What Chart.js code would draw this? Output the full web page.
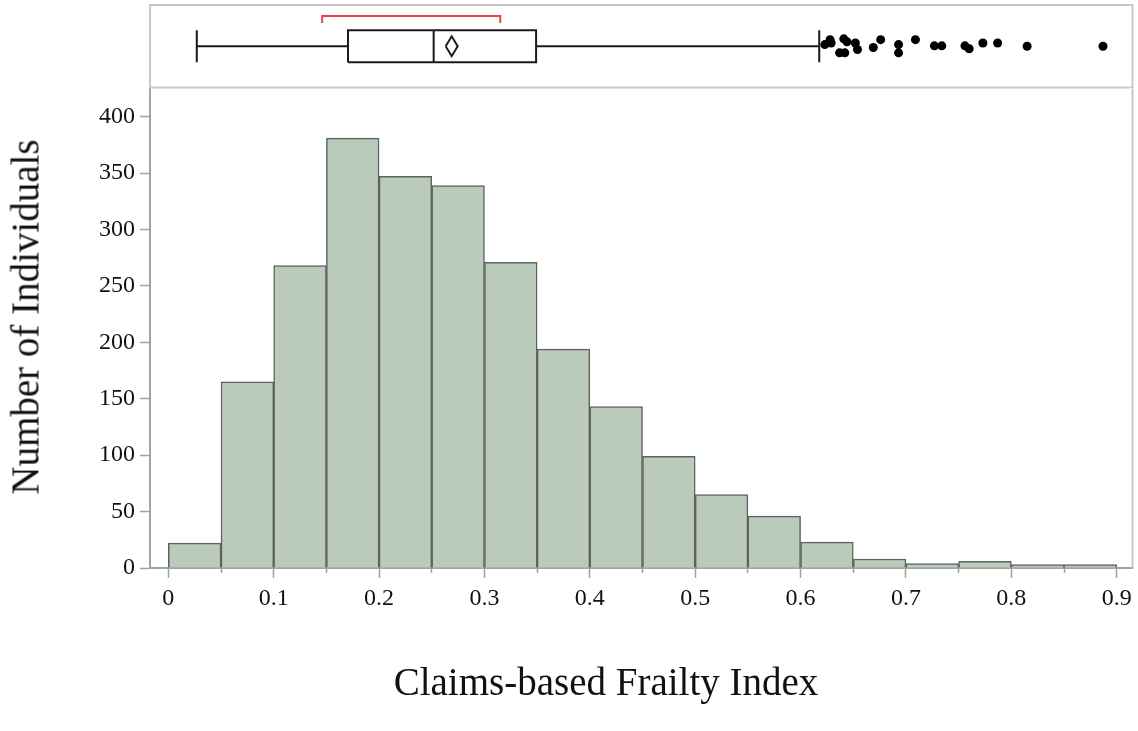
<!DOCTYPE html>
<html lang="en">
<head>
<meta charset="UTF-8">
<title>Claims-based Frailty Index</title>
<script src="https://cdn.jsdelivr.net/npm/chart.js@4.4.9/dist/chart.umd.min.js"></script>
<style>
    body { margin: 0; background: #fff; overflow: hidden; font-family: 'Liberation Serif', 'Times New Roman', serif; }
    #pagina { position: relative; width: 1138px; height: 731px; }
    #caixaHist { position: absolute; left: 0; top: 0; width: 1138px; height: 731px; }
    #caixaBox { position: absolute; left: 140px; top: 0; width: 1000px; height: 92px; }
    .tituloEixo { position: absolute; font-size: 39px; line-height: 39px; color: #111; white-space: nowrap; }
    #tituloX { left: 606px; top: 662px; transform: translateX(-50%); }
    #tituloY { left: 25px; top: 317px; transform: translate(-50%, -50%) rotate(-90deg); }
</style>
</head>
<body>
<div id="pagina">
    <div id="caixaHist"><canvas id="graficoHist"></canvas></div>
    <div id="caixaBox"><canvas id="graficoBox"></canvas></div>
    <div class="tituloEixo" id="tituloX">Claims-based Frailty Index</div>
    <div class="tituloEixo" id="tituloY">Number of Individuals</div>
</div>
<script>
    // dados do histograma (classes de 0.05)
    const inicioClasses = [0, 0.05, 0.1, 0.15, 0.2, 0.25, 0.3, 0.35, 0.4, 0.45, 0.5, 0.55, 0.6, 0.65, 0.7, 0.75, 0.8, 0.85];
    const contagens = [22, 165, 268, 381, 347, 339, 271, 194, 143, 99, 65, 46, 23, 8, 4, 6, 3, 3];
    const larguraClasse = 0.05;

    const ticksX = [0, 0.1, 0.2, 0.3, 0.4, 0.5, 0.6, 0.7, 0.8, 0.9];
    const ticksXMenores = [0.05, 0.15, 0.25, 0.35, 0.45, 0.55, 0.65, 0.75, 0.85];
    const ticksY = [0, 50, 100, 150, 200, 250, 300, 350, 400];

    // resumo do box plot
    const bigodeMin = 0.027;
    const quartil1 = 0.1705;
    const mediana = 0.2518;
    const media = 0.2689;
    const quartil3 = 0.349;
    const bigodeMax = 0.6177;
    const menorMetade = [0.146, 0.315];

    // pontos fora dos bigodes e o deslocamento vertical (jitter) de cada um
    const outliersX = [0.623, 0.628, 0.629, 0.641, 0.644, 0.637, 0.642, 0.652, 0.654, 0.669, 0.676,
        0.693, 0.693, 0.709, 0.727, 0.734, 0.756, 0.760, 0.773, 0.787, 0.815, 0.887];
    const outliersJitter = [0.04, 0.16, 0.08, 0.18, 0.11, -0.16, -0.16, 0.08, -0.08, -0.03, 0.16,
        0.04, -0.16, 0.16, 0.01, 0.01, 0.01, -0.06, 0.08, 0.08, 0, 0];

    const xMin = -0.0174;
    const xMax = 0.915;
    const fonte = "'Liberation Serif', 'Times New Roman', serif";
    const corEixo = '#a3a3a3';
    const corMoldura = '#c9c9c9';

    // moldura do painel do box plot
    const moldura = {
        id: 'moldura',
        beforeDraw(chart) {
            const a = chart.chartArea;
            const ctx = chart.ctx;
            ctx.save();
            ctx.strokeStyle = corMoldura;
            ctx.lineWidth = 2;
            ctx.strokeRect(a.left, a.top, a.right - a.left, a.bottom - a.top);
            ctx.restore();
        }
    };

    // so a borda direita no histograma (a de cima vem do painel do box plot)
    const bordaDireita = {
        id: 'bordaDireita',
        beforeDraw(chart) {
            const a = chart.chartArea;
            const ctx = chart.ctx;
            ctx.save();
            ctx.strokeStyle = corMoldura;
            ctx.lineWidth = 2;
            ctx.beginPath();
            ctx.moveTo(a.right, a.top);
            ctx.lineTo(a.right, a.bottom);
            ctx.stroke();
            ctx.restore();
        }
    };

    function plotarHistograma() {
        let dados = [];
        for (let i = 0; i < inicioClasses.length; i++) {
            dados.push({ x: inicioClasses[i] + larguraClasse / 2, y: contagens[i] });
        }
        new Chart(document.getElementById('graficoHist'), {
            type: 'bar',
            data: {
                datasets: [{
                    data: dados,
                    backgroundColor: '#bacbbc',
                    borderColor: '#5c645d',
                    borderWidth: 1.5,
                    barPercentage: 1,
                    categoryPercentage: 1
                }]
            },
            options: {
                responsive: true,
                maintainAspectRatio: false,
                animation: false,
                layout: { padding: { top: 89, right: 5.5, left: 0, bottom: 0 } },
                plugins: { legend: { display: false }, tooltip: { enabled: false } },
                scales: {
                    x: {
                        type: 'linear',
                        min: xMin,
                        max: xMax,
                        offset: false,
                        afterBuildTicks: function (s) { s.ticks = ticksX.map(v => ({ value: v })); },
                        afterFit: function (s) { s.height = 163; },
                        ticks: {
                            color: '#111',
                            font: { family: fonte, size: 24 },
                            padding: 6,
                            maxRotation: 0,
                            callback: v => String(Math.round(v * 10) / 10)
                        },
                        grid: { offset: false, drawOnChartArea: false, tickLength: 10, color: corEixo, tickWidth: 1.5 },
                        border: { color: corEixo, width: 2 }
                    },
                    xMenor: {
                        type: 'linear',
                        axis: 'x',
                        position: { y: 0 },
                        min: xMin,
                        max: xMax,
                        offset: false,
                        afterBuildTicks: function (s) { s.ticks = ticksXMenores.map(v => ({ value: v })); },
                        ticks: { display: false },
                        grid: { offset: false, drawOnChartArea: false, tickLength: 5, color: corEixo, tickWidth: 1.5 },
                        border: { display: false }
                    },
                    y: {
                        min: 0,
                        max: 424.5,
                        afterBuildTicks: function (s) { s.ticks = ticksY.map(v => ({ value: v })); },
                        afterFit: function (s) { s.width = 150; },
                        ticks: {
                            color: '#111',
                            font: { family: fonte, size: 24 },
                            padding: 5
                        },
                        grid: { drawOnChartArea: false, tickLength: 10, color: corEixo, tickWidth: 1.5 },
                        border: { color: corEixo, width: 2 }
                    }
                }
            },
            plugins: [bordaDireita]
        });
    }

    function plotarBoxPlot() {
        // alturas do desenho (unidades do eixo y do painel, -1 a 1)
        const h = 0.385;
        const hDiamante = 0.24;
        const dxDiamante = 0.0057;
        const yColchete = 0.735;
        const yPontaColchete = 0.566;

        const linha = (pontos, cor) => ({
            data: pontos,
            showLine: true,
            borderColor: cor || '#1a1a1a',
            borderWidth: 2,
            pointRadius: 0,
            fill: false
        });

        let pontosOutliers = [];
        for (let i = 0; i < outliersX.length; i++) {
            pontosOutliers.push({ x: outliersX[i], y: outliersJitter[i] });
        }

        new Chart(document.getElementById('graficoBox'), {
            type: 'scatter',
            data: {
                datasets: [
                    linha([{ x: bigodeMin, y: 0 }, { x: quartil1, y: 0 }]),
                    linha([{ x: quartil3, y: 0 }, { x: bigodeMax, y: 0 }]),
                    linha([{ x: bigodeMin, y: -h }, { x: bigodeMin, y: h }]),
                    linha([{ x: bigodeMax, y: -h }, { x: bigodeMax, y: h }]),
                    linha([{ x: quartil1, y: -h }, { x: quartil3, y: -h }, { x: quartil3, y: h },
                           { x: quartil1, y: h }, { x: quartil1, y: -h }]),
                    linha([{ x: mediana, y: -h }, { x: mediana, y: h }]),
                    linha([{ x: media - dxDiamante, y: 0 }, { x: media, y: hDiamante }, { x: media + dxDiamante, y: 0 },
                           { x: media, y: -hDiamante }, { x: media - dxDiamante, y: 0 }]),
                    linha([{ x: menorMetade[0], y: yPontaColchete }, { x: menorMetade[0], y: yColchete },
                           { x: menorMetade[1], y: yColchete }, { x: menorMetade[1], y: yPontaColchete }], '#e8434f'),
                    {
                        data: pontosOutliers,
                        pointRadius: 4.5,
                        pointBackgroundColor: '#000',
                        pointBorderWidth: 0,
                        showLine: false
                    }
                ]
            },
            options: {
                responsive: true,
                maintainAspectRatio: false,
                animation: false,
                layout: { padding: { top: 5, right: 7.5, left: 10, bottom: 4 } },
                plugins: { legend: { display: false }, tooltip: { enabled: false } },
                scales: {
                    x: { type: 'linear', min: xMin, max: xMax, display: false },
                    y: { type: 'linear', min: -1, max: 1, display: false }
                }
            },
            plugins: [moldura]
        });
    }

    plotarHistograma();
    plotarBoxPlot();
</script>
</body>
</html>
